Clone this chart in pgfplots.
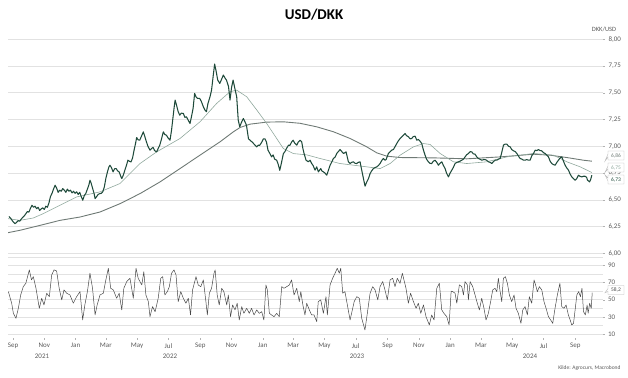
\documentclass[border=0pt]{standalone}
\usepackage{fontspec}
\setmainfont{Carlito}
\usepackage{pgfplots}
\pgfplotsset{compat=1.18}
\definecolor{maingreen}{HTML}{1E4A3A}
\definecolor{maA}{HTML}{8FA79C}
\definecolor{maB}{HTML}{6F7A75}
\definecolor{gridc}{HTML}{E2E2E2}
\definecolor{labc}{HTML}{5A5A5A}
\definecolor{rsic}{HTML}{474747}

\pgfplotstableread{
d v
-8 6.345
-5 6.33
-2 6.31
1 6.29
4 6.277
7 6.29
10 6.305
13 6.30
16 6.32
19 6.335
22 6.35
25 6.37
28 6.39
31 6.385
34 6.42
37 6.449
40 6.43
43 6.44
46 6.417
49 6.43
52 6.40
55 6.415
58 6.425
61 6.41
64 6.44
67 6.43
70 6.47
73 6.53
76 6.56
79 6.60
82 6.636
85 6.61
88 6.57
91 6.59
94 6.58
97 6.605
100 6.59
103 6.57
106 6.60
109 6.58
112 6.59
115 6.565
118 6.58
121 6.56
124 6.575
127 6.55
130 6.57
133 6.53
136 6.496
139 6.54
142 6.56
145 6.60
148 6.64
150 6.683
152 6.66
155 6.61
158 6.56
160 6.511
163 6.53
166 6.55
169 6.558
172 6.56
175 6.575
178 6.62
181 6.70
184 6.76
187 6.808
189 6.823
192 6.80
195 6.761
198 6.79
201 6.792
204 6.77
207 6.76
210 6.72
212 6.698
215 6.73
218 6.776
221 6.82
224 6.87
227 6.86
230 6.854
233 6.89
236 6.964
239 7.03
241 7.082
244 7.06
247 7.057
250 7.09
254 7.135
257 7.09
260 7.042
263 7.00
267 6.964
270 6.979
273 6.99
276 6.96
280 6.948
283 6.98
286 7.010
289 7.06
293 7.135
296 7.11
299 7.104
302 7.08
306 7.057
309 7.15
312 7.276
314 7.36
316 7.432
319 7.38
322 7.323
325 7.291
328 7.31
332 7.307
335 7.27
338 7.276
342 7.24
345 7.213
348 7.28
351 7.354
354 7.494
357 7.46
360 7.447
364 7.447
367 7.42
371 7.369
374 7.34
377 7.323
380 7.40
384 7.463
387 7.525
390 7.65
393 7.769
396 7.70
399 7.619
403 7.588
406 7.62
410 7.666
413 7.64
416 7.619
420 7.56
423 7.432
426 7.55
429 7.619
432 7.55
436 7.463
439 7.245
442 7.182
445 7.22
449 7.26
452 7.23
455 7.198
459 7.07
462 7.057
466 7.04
470 7.02
475 6.995
478 7.01
481 7.010
485 7.04
488 7.07
491 7.07
494 7.04
497 6.964
501 6.93
504 6.901
507 6.92
510 6.88
514 6.870
517 6.83
520 6.776
523 6.84
527 6.932
530 6.95
533 6.979
537 7.01
540 7.010
543 7.04
546 7.057
549 7.03
553 7.010
556 7.04
559.5 7.057
562.7 7.042
565 6.98
567.3 6.933
571.2 6.870
575.7 6.855
579 6.87
582.2 6.839
585 6.82
588.7 6.777
592 6.808
595.2 6.761
599.8 6.792
602 6.77
605 6.761
608 6.75
611.5 6.730
615 6.78
618 6.823
621 6.85
624.5 6.886
628 6.90
631 6.933
634 6.95
637.5 6.970
641 6.95
644 6.933
647 6.94
649.2 6.948
653.7 6.855
657 6.839
660 6.85
663.5 6.855
667 6.84
670 6.839
673 6.85
676.5 6.855
679.7 6.777
683 6.70
686.2 6.627
689.5 6.667
693 6.70
696 6.745
699 6.77
702.5 6.792
705.5 6.80
709 6.808
712 6.82
715.5 6.839
719 6.87
722 6.886
725 6.87
727.2 6.876
731.7 6.933
735 6.95
738.2 6.964
741.5 6.970
745 7.00
748 7.026
751 7.05
754.5 7.073
758 7.09
761 7.104
764.2 7.12
767 7.10
770.7 7.089
774 7.07
777.2 7.073
780 7.09
783.7 7.095
787 7.057
790.2 7.064
793 7.05
796.7 7.026
800 6.964
803.2 6.917
806 6.88
809.7 6.855
813 6.84
816.2 6.839
819 6.86
822.7 6.870
826 6.85
829.2 6.823
832 6.84
835.7 6.855
839 6.82
842.2 6.792
845 6.75
848.7 6.714
852 6.75
855.2 6.777
858 6.80
861.7 6.839
865 6.85
868.2 6.855
871 6.86
874.7 6.870
878 6.88
881.2 6.901
884 6.92
887.7 6.933
891 6.95
894.2 6.948
897 6.93
900.7 6.926
904 6.90
907.2 6.886
910 6.88
913.7 6.870
917 6.875
920.2 6.876
923 6.87
926.7 6.855
930 6.85
933.2 6.839
937 6.86
940 6.870
943 6.870
946 6.88
949.5 6.886
952 6.93
956 7.011
959 7.02
962.5 7.020
966 7.00
969 6.995
972 6.97
975.5 6.958
979 6.95
982 6.933
985 6.91
988.5 6.886
992 6.88
995 6.870
998 6.87
1001.5 6.876
1005 6.87
1008 6.870
1011 6.91
1014.5 6.933
1017.7 6.964
1021 6.96
1024.2 6.970
1027 6.96
1030.7 6.958
1034 6.94
1037.2 6.933
1040 6.92
1043.7 6.901
1047 6.86
1050.2 6.839
1053 6.83
1056.7 6.823
1060 6.85
1063.2 6.870
1066 6.89
1069.7 6.901
1073 6.86
1076.2 6.823
1079 6.80
1082.7 6.777
1086 6.74
1089.2 6.714
1092 6.70
1095.7 6.683
1099 6.70
1102.2 6.730
1105 6.72
1108.7 6.714
1112 6.72
1115.2 6.720
1118 6.71
1119.8 6.683
1122 6.675
1123.7 6.667
1126 6.69
1128.2 6.73
}\pricetab

\pgfplotstableread{
d v
-9.75 6.324
13.6 6.308
39.6 6.33
59.1 6.371
91.6 6.449
124 6.527
169.6 6.574
208.6 6.652
247.6 6.839
280 6.948
325.5 7.073
364.5 7.229
397 7.401
423 7.51
436 7.525
455.5 7.463
475 7.34
494.5 7.213
527 6.979
546.5 6.932
572.5 6.92
598.5 6.886
637.5 6.839
689.5 6.808
715.5 6.792
735 6.839
754.5 6.917
780.5 6.995
800 7.026
813 7.017
832.5 6.933
858.5 6.855
884.5 6.839
923.5 6.855
962.5 6.901
1014.5 6.933
1053.5 6.917
1079.5 6.855
1105.5 6.808
1128.2 6.755
}\maAtab

\pgfplotstableread{
d v
-9.75 6.193
13.6 6.215
52.6 6.261
91.6 6.308
130.6 6.339
169.6 6.386
208.6 6.464
247.6 6.558
286.5 6.667
325.5 6.792
364.5 6.917
403.5 7.042
429.5 7.135
442.5 7.176
462 7.207
494.5 7.226
527 7.229
559.5 7.215
592 7.182
624.5 7.136
657 7.073
689.5 6.995
709 6.939
728.5 6.908
754.5 6.895
819.5 6.892
884.5 6.883
949.5 6.901
1014.5 6.926
1047 6.917
1079.5 6.895
1111.8 6.870
1128.2 6.861
}\maBtab

\pgfplotstableread{
d v
-9 59.5
-2.6 45.9
0.7 34.1
5.8 28.3
10.4 40
15 55.6
20 65.3
25 69.2
31.8 84.9
36 73.2
39.6 77
44.8 63.4
51.3 40
56 51.7
60.4 43.9
65.7 57.6
70.8 53.6
75.4 79
80 84.9
85 83.7
90 63.4
95 49.8
99.4 61.5
104.7 57.6
111 55.6
117.6 45.9
124 53.6
130.6 59.5
135.8 26.3
140 43.9
145 59.5
150 81
155 63.4
160 32.2
164 43.9
169.6 55.6
176 57.6
181 73.2
185.8 86.8
190.4 63.4
195.5 61.5
202 51.7
207 57.6
212 38.1
216 63.4
221.6 71.2
228 75.1
234.5 51.7
239.8 86.8
244 75.1
251 67.3
255 82.9
259 55.6
263.8 47.8
267 30.2
272 42
277 36
283 51.7
288 75.1
291.8 77
296 55.6
300.8 59.5
304.7 65.3
309 81
313.8 84.9
317.7 79
322 47.8
327 59.5
332 51.7
337 45.9
341.8 51.7
346 32.2
350 61.5
356.7 77
361 67.3
366 65.3
371 73.2
376 47.8
378.8 32.2
382.7 57.6
387 63.4
391.8 81
394 84.9
398 55.6
402 43.9
406.8 63.4
411 59.5
416.6 43.9
419.7 55.6
424 30.2
428 43.9
432.7 38.1
437 45.9
441 26.3
445.8 42
450 34.1
455.5 40
460.6 34.1
465 40
469.8 32.2
475 38.1
480 34.1
484.8 36
489 26.3
493 67.3
495.7 61.5
499.7 34.1
504 32.2
508.8 30.2
514 34.1
519 30.2
523.8 65.3
528 63.4
533.5 65.3
538.6 67.3
543 73.2
547.8 55.6
553 63.4
558 47.8
561 59.5
565 43.9
569 32.2
572.5 45.9
577.6 38.1
582 32.2
586.7 32.2
592 24.4
595 47.8
599.8 49.8
605 34.1
610 53.6
612.7 32.2
618 67.3
623 75.1
627.7 81
632 86.8
636 81
638.8 86.8
642.7 57.6
647 59.5
651.7 43.9
657 26.3
661.4 38.1
665 47.8
670 53.6
675 51.7
679.7 28.3
686 14.6
690.6 34.1
696 57.6
701 65.3
705.7 61.5
711 49.8
715.4 65.3
720.6 71.2
725 61.5
729.6 49.8
735 73.2
740 75.1
744.6 65.3
749 75.1
754.4 69.2
758.9 81
762 73.2
766 63.4
770.6 45.9
775 57.6
780.5 47.8
785.6 40
790 45.9
794.8 34.1
800 43.9
805 30.2
811.5 20.5
816 32.2
820.7 26.3
826 63.4
831 69.2
835.7 38.1
840 34.1
845.4 30.2
850 20.5
854 60
857 59.5
861.6 57.6
865 45.9
870 67.3
874.7 65.3
878 55.6
881 71.2
885.6 67.3
887.6 49.8
891 71.2
896 65.3
900.6 55.6
905 45.9
909 38.1
913.6 51.7
918 40
922 26.3
926.5 34.1
931 47.8
935 61.5
939.6 63.4
943 59.5
946 75.1
949 61.5
952.6 47.8
955.8 75.1
959.7 77
963.6 69.2
967.5 55.6
972 47.8
976.6 55.6
980.5 40
985 34.1
990 22.4
993.6 38.1
998 42
1002.6 32.2
1006.4 53.6
1011 45.9
1015.6 73.2
1019.5 65.3
1022 59.5
1026 65.3
1030.6 61.5
1035 47.8
1039 40
1043.6 30.2
1048 26.3
1052 22.4
1056.5 40
1061 55.6
1066 69.2
1069.6 42
1074 40
1078 43.9
1082.5 32.2
1086 26.3
1089 20.5
1092.5 22.4
1096 40
1099 55.6
1102.5 59.5
1106 53.6
1109 63.4
1112 36
1115.6 32.2
1119 43.9
1121 34.1
1124 45.9
1127 40
1129 58.2
}\rsitab

\begin{document}
\begin{tikzpicture}[x=1bp,y=1bp]
\useasboundingbox (0,0) rectangle (628,377);
\pgfplotsset{base/.style={
  scale only axis, width=595bp, xmin=-9.75, xmax=1150,
  axis line style={draw=none},
  tick align=outside, major tick length=2bp, minor tick length=0pt,
  tick style={draw=gray!60, line width=0.4pt},
  ytick pos=right, yticklabel pos=right,
  ymajorgrids, grid style={draw=gridc, line width=0.6pt},
  /pgf/number format/assume math mode=true,
  yticklabel style={font=\fontsize{7}{8}\selectfont, text=labc},
  xticklabel style={font=\fontsize{7}{8}\selectfont, text=labc},
}}
% upper panel
\begin{axis}[base, at={(8bp,123.7bp)}, anchor=south west, height=214bp,
  ymin=6, ymax=8, ytick={6,6.25,6.5,6.75,7,7.25,7.5,7.75,8},
  xtick=\empty,
  yticklabel style={/pgf/number format/.cd, fixed, fixed zerofill, precision=2, use comma}]
\addplot[maB, line width=0.9pt] table[x=d,y=v] {\maBtab};
\addplot[maA, line width=0.6pt] table[x=d,y=v] {\maAtab};
\addplot[maingreen, line width=1.05pt, line join=round] table[x=d,y=v] {\pricetab};
\end{axis}
% lower panel
\begin{axis}[base, at={(8bp,38.8bp)}, anchor=south west, height=81.2bp,
  ymin=5, ymax=100, ytick={10,30,50,70,90}, minor ytick={20,40,60,80,100},
  yminorgrids, minor grid style={draw=gridc, line width=0.6pt},
  xtick={0,61,122,181,242,303,365,426,487,546,607,668,730,791,852,912,973,1034,1096},
  xticklabels={Sep,Nov,Jan,Mar,May,Jul,Sep,Nov,Jan,Mar,May,Jul,Sep,Nov,Jan,Mar,May,Jul,Sep},
  xtick pos=bottom, major tick length=1.5bp]
\addplot[rsic, line width=0.5pt, line join=round] table[x=d,y=v] {\rsitab};
\end{axis}
% texts
\node[font=\fontsize{15}{18}\selectfont\bfseries] at (314,362) {USD/DKK};
\node[font=\fontsize{6.5}{7}\selectfont, text=labc] at (604,348) {DKK/USD};
\node[font=\fontsize{5.5}{6}\selectfont, text=labc, anchor=east] at (624,8.7) {Kilde: Agrocurs, Macrobond};
\foreach \xx/\yy in {42/2021,170/2022,357/2023,530/2024}
  \node[font=\fontsize{7}{8}\selectfont, text=labc] at (\xx,20.3) {\yy};
% callouts
\newcommand{\callout}[4]{%
 \draw[gray!55, line width=0.4pt, fill=white] (608,#1+4.5) -- (624,#1+4.5) -- (624,#1-4.5) -- (608,#1-4.5) -- (608,#1-1.5) -- (605,#2) -- (608,#1+1.5) -- cycle;
 \node[font=\fontsize{5.5}{6}\selectfont, text=#3, inner sep=0pt] at (616,#1) {#4};}
\callout{221.5}{216}{maB}{6,86}
\callout{209.5}{204.7}{maA}{6,75}
\callout{197.5}{202}{maingreen}{6,73}
\callout{87}{84.3}{rsic}{58,2}
\end{tikzpicture}
\end{document}
